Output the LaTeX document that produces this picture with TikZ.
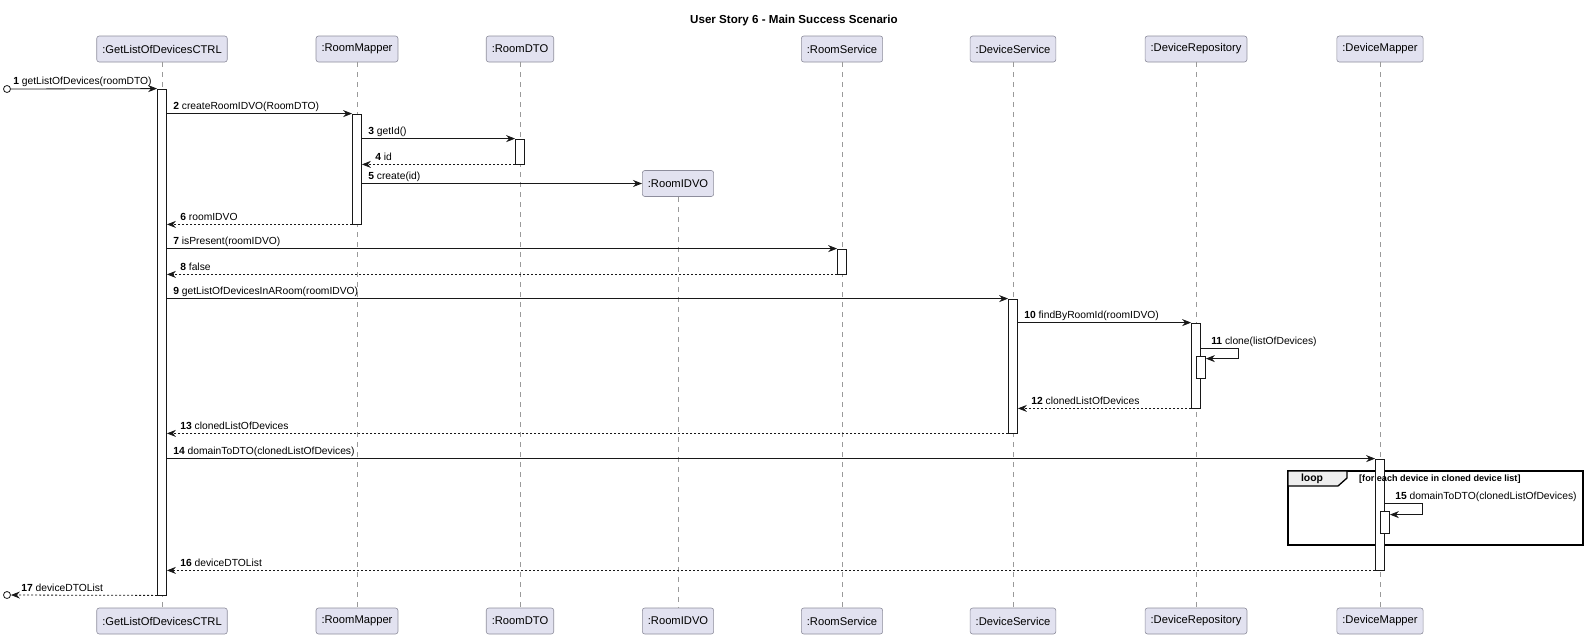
\documentclass[tikz,border=0pt]{standalone}
\usepackage{fontspec}
\setmainfont{Liberation Sans}
\usetikzlibrary{arrows.meta,positioning,calc}

\definecolor{partfill}{HTML}{E2E2F0}
\definecolor{partline}{HTML}{8D8D9C}
\definecolor{inkline}{HTML}{181818}
\definecolor{lifegray}{HTML}{9A9A9A}
\definecolor{tabfill}{HTML}{EEEEEE}

\begin{document}
\begin{tikzpicture}[
    x=1pt, y=-1pt,
    every node/.style={text=black},
    part/.style={draw=partline, fill=partfill, line width=0.6pt, rounded corners=2.5pt,
        minimum height=26pt, inner xsep=5.5pt, font=\fontsize{11.2}{13}\selectfont},
    lifeline/.style={draw=lifegray, line width=0.6pt, dash pattern=on 5pt off 5pt},
    act/.style={draw=inkline, fill=white, line width=0.8pt, minimum width=9pt, inner sep=0pt},
    msg/.style={draw=inkline, line width=0.8pt, -{Stealth[length=9pt,width=7pt,inset=3pt]}},
    ret/.style={msg, dash pattern=on 2pt off 2pt},
    lbl/.style={anchor=base west, inner sep=0pt, font=\fontsize{10.3}{12}\selectfont},
    fwdlbl/.style={lbl, xshift=6pt, yshift=4pt},
    retlbl/.style={lbl, xshift=13pt, yshift=4pt},
    selflbl/.style={lbl, xshift=10pt, yshift=4pt},
    endpt/.style={circle, draw=inkline, line width=0.8pt, minimum size=7pt, inner sep=0pt},
    frame/.style={draw=black, line width=1.3pt}
]
    \useasboundingbox (0,0) rectangle (1587,638);

    % ==========================
    % TITLE
    % ==========================
    \node[font=\bfseries\fontsize{11.6}{14}\selectfont] (title) at (794,20)
        {User Story 6 - Main Success Scenario};

    % ==========================
    % PARTICIPANTS AND LIFELINES
    % ==========================
    \foreach \id/\x/\txt in {
        ctrl/162/:GetListOfDevicesCTRL,
        rm/357/:RoomMapper,
        dto/520/:RoomDTO,
        rs/842/:RoomService,
        ds/1013/:DeviceService,
        dr/1196/:DeviceRepository,
        dm/1380/:DeviceMapper}
    {
        \node[part] (\id-top) at (\x,49) {\txt};
        \node[part] (\id-bot) at (\x,621) {\txt};
        \draw[lifeline] (\id-top) -- (\id-bot);
    }

    % RoomIDVO is created on the way
    \node[part] (idvo-top) at (678,183.5) {:RoomIDVO};
    \node[part] (idvo-bot) at (678,621) {:RoomIDVO};
    \draw[lifeline] (idvo-top) -- (idvo-bot);

    % ==========================
    % LOOP FRAME
    % ==========================
    \draw[frame] (1288,471) rectangle (1583,545);
    \draw[frame, fill=tabfill] (1288,471) -- (1347,471) -- (1347,478)
        -- (1338,486) -- (1288,486) -- cycle;
    \node[font=\bfseries\fontsize{10.4}{12}\selectfont] (looptag) at (1312,478.5) {loop};

    % ==========================
    % ACTIVATIONS
    % ==========================
    \foreach \name/\x/\ya/\yb in {
        ctrlAct/162/89/595,
        rmAct/357/114/224,
        dtoAct/520/139/164,
        rsAct/842/249/274,
        dsAct/1013/299/433,
        drAct/1196/323/408,
        drIn/1201/356/378,
        dmAct/1380/459/570,
        dmIn/1385/511/533}
    {
        \pgfmathsetmacro{\h}{\yb-\ya}
        \pgfmathsetmacro{\ym}{(\ya+\yb)/2}
        \node[act, minimum height=\h pt] (\name) at (\x,\ym) {};
    }

    % guard text sits on top of the activation
    \node[anchor=west, inner sep=0pt, font=\bfseries\fontsize{9.1}{11}\selectfont] (guard)
        at (1359,479.5) {[for each device in cloned device list]};

    % ==========================
    % MESSAGES
    % ==========================
    \node[endpt] (inPt) at (7,89) {};
    \node[endpt] (outPt) at (7,595) {};

    \draw[msg] (inPt) -- (ctrlAct.north west)
        node[pos=0, fwdlbl, xshift=-4pt] {\textbf{1} getListOfDevices(roomDTO)};
    \draw[msg] (ctrlAct.east |- rmAct.north) -- (rmAct.north west)
        node[pos=0, fwdlbl] {\textbf{2} createRoomIDVO(RoomDTO)};
    \draw[msg] (rmAct.east |- dtoAct.north) -- (dtoAct.north west)
        node[pos=0, fwdlbl] {\textbf{3} getId()};
    \draw[ret] (dtoAct.south west) -- (rmAct.east |- dtoAct.south)
        node[pos=1, retlbl] {\textbf{4} id};
    \draw[msg] (rmAct.east |- idvo-top.west) -- (idvo-top.west)
        node[pos=0, fwdlbl] {\textbf{5} create(id)};
    \draw[ret] (rmAct.south west) -- (ctrlAct.east |- rmAct.south)
        node[pos=1, retlbl] {\textbf{6} roomIDVO};
    \draw[msg] (ctrlAct.east |- rsAct.north) -- (rsAct.north west)
        node[pos=0, fwdlbl] {\textbf{7} isPresent(roomIDVO)};
    \draw[ret] (rsAct.south west) -- (ctrlAct.east |- rsAct.south)
        node[pos=1, retlbl] {\textbf{8} false};
    \draw[msg] (ctrlAct.east |- dsAct.north) -- (dsAct.north west)
        node[pos=0, fwdlbl] {\textbf{9} getListOfDevicesInARoom(roomIDVO)};
    \draw[msg] (dsAct.east |- drAct.north) -- (drAct.north west)
        node[pos=0, fwdlbl] {\textbf{10} findByRoomId(roomIDVO)};
    \draw[msg] ($(drIn.north -| drAct.east)+(0,-7)$)
        node[selflbl] {\textbf{11} clone(listOfDevices)}
        -- ++(37,0) |- ($(drIn.north east)+(0,3)$);
    \draw[ret] (drAct.south west) -- (dsAct.east |- drAct.south)
        node[pos=1, retlbl] {\textbf{12} clonedListOfDevices};
    \draw[ret] (dsAct.south west) -- (ctrlAct.east |- dsAct.south)
        node[pos=1, retlbl] {\textbf{13} clonedListOfDevices};
    \draw[msg] (ctrlAct.east |- dmAct.north) -- (dmAct.north west)
        node[pos=0, fwdlbl] {\textbf{14} domainToDTO(clonedListOfDevices)};
    \draw[msg] ($(dmIn.north -| dmAct.east)+(0,-7)$)
        node[selflbl] {\textbf{15} domainToDTO(clonedListOfDevices)}
        -- ++(37,0) |- ($(dmIn.north east)+(0,4)$);
    \draw[ret] (dmAct.south west) -- (ctrlAct.east |- dmAct.south)
        node[pos=1, retlbl] {\textbf{16} deviceDTOList};
    \draw[ret] (ctrlAct.south west) -- (outPt)
        node[pos=1, retlbl, xshift=-3pt] {\textbf{17} deviceDTOList};

\end{tikzpicture}
\end{document}
